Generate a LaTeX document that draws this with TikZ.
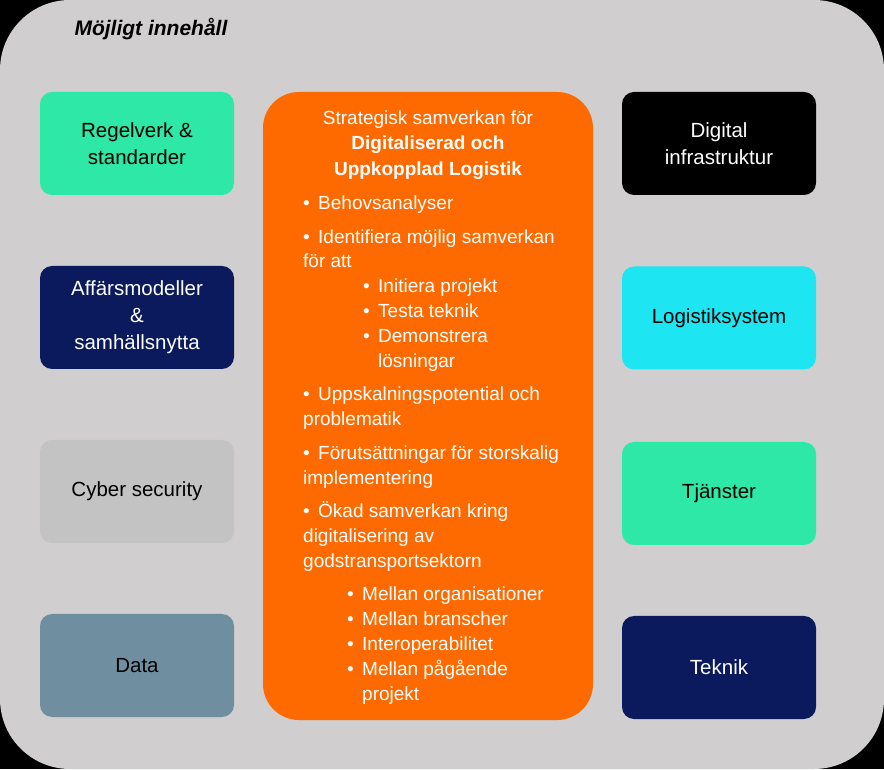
\documentclass[tikz,border=0pt]{standalone}
\usepackage{fontspec}
\setmainfont{Liberation Sans}
\definecolor{bgg}{HTML}{D0CECE}
\definecolor{grn}{HTML}{2DE8A6}
\definecolor{navy}{HTML}{0A1A5C}
\definecolor{cgray}{HTML}{C3C3C3}
\definecolor{dblue}{HTML}{6F8FA0}
\definecolor{cyan2}{HTML}{1DE6F2}
\definecolor{orng}{HTML}{FF6A00}
\tikzset{
 box/.style={rounded corners=12pt,minimum width=194pt,minimum height=103pt,align=center,font=\fontsize{20.5}{27}\selectfont,inner sep=0pt},
 ln/.style={anchor=base west,text=white,font=\fontsize{19}{22}\selectfont,inner sep=0pt},
}
\newcommand{\Y}[1]{769-#1}
\newcommand{\bul}[3]{\node[ln] at (#1,\Y{#2}) {•}; \node[ln] at (#1+15,\Y{#2}) {#3};}
\begin{document}
\begin{tikzpicture}[x=1pt,y=1pt]
\useasboundingbox (0,0) rectangle (884,769);
\fill[black] (0,0) rectangle (884,769);
\fill[bgg,rounded corners=70pt] (0,0) rectangle (884,769);
\node[anchor=base west,font=\fontsize{21}{24}\selectfont\bfseries\itshape] (title) at (71,\Y{36}) {Möjligt innehåll};
\node[box,fill=grn] (a) at (137,\Y{143.5}) {Regelverk \&\\standarder};
\node[box,fill=navy,text=white] (b) at (137,\Y{317.5}) {Affärsmodeller\\\&\\samhällsnytta};
\node[box,fill=cgray] (c) at (137,\Y{491.5}) {Cyber security};
\node[box,fill=dblue] (d) at (137,\Y{665.5}) {Data};
\node[box,fill=black,text=white] (e) at (719,\Y{143.5}) {Digital\\infrastruktur};
\node[box,fill=cyan2] (f) at (719,\Y{318}) {Logistiksystem};
\node[box,fill=grn] (g) at (719,\Y{493.5}) {Tjänster};
\node[box,fill=navy,text=white] (h) at (719,\Y{667.5}) {Teknik};
\fill[orng,rounded corners=36pt] (263,\Y{720}) rectangle (593,\Y{92});
\node[anchor=base,text=white,font=\fontsize{19}{22}\selectfont,inner sep=0pt] (t1) at (428,\Y{125}) {Strategisk samverkan för};
\node[anchor=base,text=white,font=\fontsize{19}{22}\selectfont\bfseries,inner sep=0pt] (t2) at (428,\Y{150}) {Digitaliserad och};
\node[anchor=base,text=white,font=\fontsize{19}{22}\selectfont\bfseries,inner sep=0pt] (t3) at (428,\Y{176}) {Uppkopplad Logistik};
\bul{303}{210}{Behovsanalyser}
\bul{303}{244}{Identifiera möjlig samverkan}
\node[ln] (l3) at (303,\Y{268}) {för att};
\bul{363}{293}{Initiera projekt}
\bul{363}{318}{Testa teknik}
\bul{363}{343}{Demonstrera}
\node[ln] (l7) at (378,\Y{368}) {lösningar};
\bul{303}{401}{Uppskalningspotential och}
\node[ln] (l9) at (303,\Y{426}) {problematik};
\bul{303}{460}{Förutsättningar för storskalig}
\node[ln] (l11) at (303,\Y{485}) {implementering};
\bul{303}{518}{Ökad samverkan kring}
\node[ln] (l13) at (303,\Y{543}) {digitalisering av};
\node[ln] (l14) at (303,\Y{568}) {godstransportsektorn};
\bul{347}{601}{Mellan organisationer}
\bul{347}{626}{Mellan branscher}
\bul{347}{651}{Interoperabilitet}
\bul{347}{676}{Mellan pågående}
\node[ln] (l19) at (362,\Y{701}) {projekt};
\end{tikzpicture}
\end{document}
